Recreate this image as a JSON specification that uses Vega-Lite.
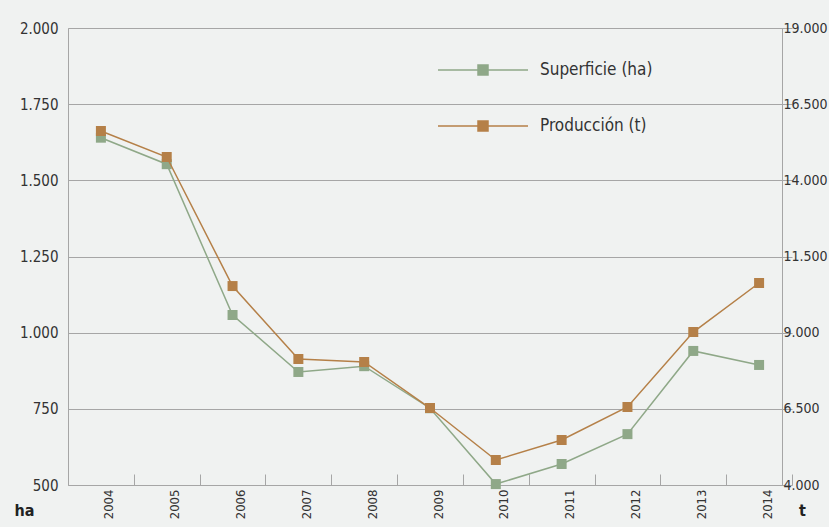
{
  "$schema": "https://vega.github.io/schema/vega-lite/v6.json",
  "width": 714,
  "height": 457,
  "autosize": "none",
  "padding": {"left": 68, "top": 28, "right": 47, "bottom": 42},
  "background": "#f0f2f1",
  "config": {
    "view": {"stroke": "#a6a6a6", "strokeWidth": 1},
    "font": "DejaVu Sans Condensed, Roboto, sans-serif",
    "axis": {"labelFont": "DejaVu Sans Condensed, Roboto, sans-serif", "labelColor": "#333333", "titleFont": "DejaVu Sans Condensed, Roboto, sans-serif", "titleColor": "#222222"},
    "legend": {"labelFont": "DejaVu Sans Condensed, Roboto, sans-serif"}
  },
  "data": {
    "values": [
      {"anio": "2004", "serie": "Superficie (ha)", "valor": 1640},
      {"anio": "2005", "serie": "Superficie (ha)", "valor": 1553},
      {"anio": "2006", "serie": "Superficie (ha)", "valor": 1058},
      {"anio": "2007", "serie": "Superficie (ha)", "valor": 871},
      {"anio": "2008", "serie": "Superficie (ha)", "valor": 890},
      {"anio": "2009", "serie": "Superficie (ha)", "valor": 752},
      {"anio": "2010", "serie": "Superficie (ha)", "valor": 503},
      {"anio": "2011", "serie": "Superficie (ha)", "valor": 569},
      {"anio": "2012", "serie": "Superficie (ha)", "valor": 667},
      {"anio": "2013", "serie": "Superficie (ha)", "valor": 940},
      {"anio": "2014", "serie": "Superficie (ha)", "valor": 894},
      {"anio": "2004", "serie": "Producción (t)", "valor": 15620},
      {"anio": "2005", "serie": "Producción (t)", "valor": 14765},
      {"anio": "2006", "serie": "Producción (t)", "valor": 10530},
      {"anio": "2007", "serie": "Producción (t)", "valor": 8135},
      {"anio": "2008", "serie": "Producción (t)", "valor": 8037},
      {"anio": "2009", "serie": "Producción (t)", "valor": 6527},
      {"anio": "2010", "serie": "Producción (t)", "valor": 4820},
      {"anio": "2011", "serie": "Producción (t)", "valor": 5477},
      {"anio": "2012", "serie": "Producción (t)", "valor": 6560},
      {"anio": "2013", "serie": "Producción (t)", "valor": 9021},
      {"anio": "2014", "serie": "Producción (t)", "valor": 10630}
    ]
  },
  "encoding": {
    "x": {
      "field": "anio",
      "type": "ordinal",
      "scale": {"range": [0, 724], "paddingInner": 0, "paddingOuter": 0},
      "axis": {
        "title": null,
        "labelAngle": 270,
        "tickBand": "extent",
        "tickSize": -11,
        "tickColor": "#a6a6a6",
        "labelOffset": 8,
        "labelPadding": 15,
        "domain": false,
        "grid": false,
        "labelFontSize": 13
      }
    },
    "color": {
      "field": "serie",
      "type": "nominal",
      "scale": {"domain": ["Superficie (ha)", "Producción (t)"], "range": ["#8fa888", "#b58048"]},
      "legend": {
        "title": null,
        "orient": "none",
        "legendX": 404,
        "legendY": 31,
        "padding": 0,
        "symbolType": "M-4.5,0H4.5M-0.5,-0.5H0.5V0.5H-0.5Z",
        "symbolSize": 400,
        "symbolStrokeWidth": 1.5,
        "labelFontSize": 17,
        "labelColor": "#333333",
        "labelOffset": 46,
        "labelLimit": 300,
        "rowPadding": 37,
        "encode": {
          "symbols": {
            "update": {
              "fill": {"scale": "color", "field": "value"},
              "stroke": {"scale": "color", "field": "value"},
              "opacity": {"value": 1}
            }
          }
        }
      }
    }
  },
  "layer": [
    {
      "transform": [{"filter": "datum.serie === 'Superficie (ha)'"}],
      "mark": {"type": "line", "strokeWidth": 1.5, "point": {"shape": "square", "size": 100, "filled": true, "opacity": 1}},
      "encoding": {
        "y": {
          "field": "valor",
          "type": "quantitative",
          "scale": {"domain": [500, 2000], "nice": false, "zero": false},
          "axis": {
            "orient": "left",
            "values": [500, 750, 1000, 1250, 1500, 1750, 2000],
            "labelExpr": "replace(format(datum.value, ','), ',', '.')",
            "grid": true,
            "gridColor": "#a6a6a6",
            "gridWidth": 1,
            "domain": false,
            "ticks": false,
            "labelPadding": 10,
            "labelFontSize": 15,
            "title": "ha",
            "titleAngle": 0,
            "titleX": -44,
            "titleY": 482,
            "titleAlign": "center",
            "titleBaseline": "middle",
            "titleFontWeight": "bold",
            "titleFontSize": 16
          }
        }
      }
    },
    {
      "transform": [{"filter": "datum.serie === 'Producción (t)'"}],
      "mark": {"type": "line", "strokeWidth": 1.5, "point": {"shape": "square", "size": 100, "filled": true, "opacity": 1}},
      "encoding": {
        "y": {
          "field": "valor",
          "type": "quantitative",
          "scale": {"domain": [4000, 19000], "nice": false, "zero": false},
          "axis": {
            "orient": "right",
            "values": [4000, 6500, 9000, 11500, 14000, 16500, 19000],
            "labelExpr": "replace(format(datum.value, ','), ',', '.')",
            "grid": false,
            "domain": false,
            "ticks": false,
            "labelPadding": 1,
            "labelFontSize": 14,
            "title": "t",
            "titleAngle": 0,
            "titleX": 20,
            "titleY": 482,
            "titleAlign": "center",
            "titleBaseline": "middle",
            "titleFontWeight": "bold",
            "titleFontSize": 16
          }
        }
      }
    }
  ],
  "resolve": {"scale": {"y": "independent"}}
}
